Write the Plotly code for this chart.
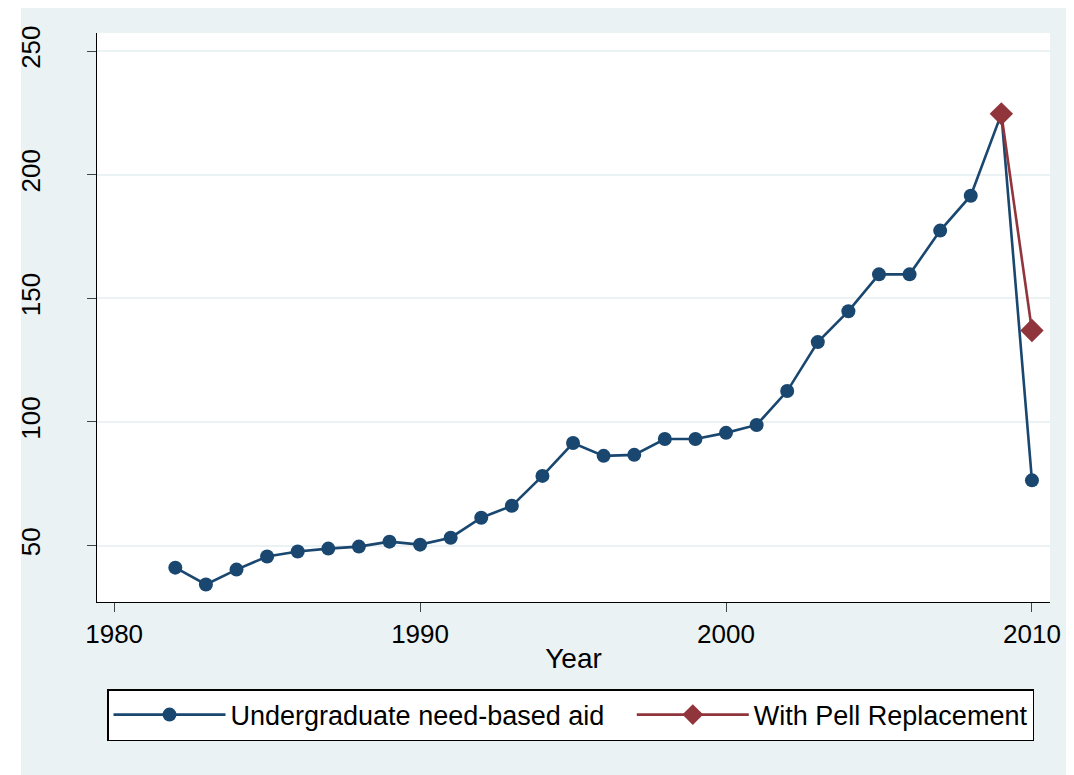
import plotly.graph_objects as go

years = list(range(1982, 2011))
need_based_aid = [41.1, 34.3, 40.3, 45.6, 47.6, 48.8, 49.6, 51.6, 50.4, 53.2,
                  61.3, 66.1, 78.2, 91.5, 86.3, 86.7, 93.1, 93.1, 95.6, 98.8,
                  112.5, 132.3, 144.8, 159.7, 159.7, 177.4, 191.5, 224.6, 76.4]
pell_years = [2009, 2010]
pell_replacement = [224.6, 137.0]

x_ticks = [1980, 1990, 2000, 2010]
y_ticks = [50, 100, 150, 200, 250]

navy = "#1a476f"
maroon = "#90353b"
panel = "#eaf2f3"

fig = go.Figure()

fig.add_trace(go.Scatter(
    x=years, y=need_based_aid,
    mode="lines+markers",
    # trailing no-break spaces widen the gap to the second legend entry
    name="Undergraduate need-based aid\u00a0\u00a0\u00a0",
    line=dict(color=navy, width=2.6),
    marker=dict(color=navy, size=14, symbol="circle")
))

fig.add_trace(go.Scatter(
    x=pell_years, y=pell_replacement,
    mode="lines+markers",
    name="With Pell Replacement",
    line=dict(color=maroon, width=2.6),
    marker=dict(color=maroon, size=18, symbol="diamond")
))

# outer light panel, then the white plot region on top of it
fig.add_shape(type="rect", xref="paper", yref="paper",
              x0=-0.0797, x1=1.05, y0=-0.35, y1=1.0457,
              fillcolor=panel, line=dict(width=0), layer="below")
fig.add_shape(type="rect", xref="paper", yref="paper",
              x0=0, x1=1, y0=0, y1=1,
              fillcolor="white", line=dict(width=0), layer="below")

fig.update_layout(
    width=1074, height=775,
    paper_bgcolor="white",
    plot_bgcolor="white",
    margin=dict(l=89, r=32, t=25, b=181),
    font=dict(family="Arial, Liberation Sans, sans-serif", size=26, color="black"),
    showlegend=True,
    xaxis=dict(
        range=[1979.44, 2010.59],
        tickvals=x_ticks,
        ticks="outside", ticklen=9, tickwidth=1.3, tickcolor="#444",
        showgrid=False, zeroline=False, automargin=False,
        showline=True, linecolor="black", linewidth=1.3,
        title=dict(text="Year", standoff=0, font=dict(size=28)),
        tickfont=dict(size=26)
    ),
    yaxis=dict(
        range=[27.2, 257.3],
        tickvals=y_ticks,
        tickangle=-90,
        ticks="outside", ticklen=9, tickwidth=1.3, tickcolor="#444",
        showgrid=True, gridcolor=panel, gridwidth=2,
        zeroline=False, automargin=False,
        showline=True, linecolor="black", linewidth=1.3,
        tickfont=dict(size=26),
        ticklabelstandoff=36
    ),
    legend=dict(
        orientation="h",
        x=0.0105, y=-0.153,
        xanchor="left", yanchor="top",
        bgcolor="white",
        bordercolor="black",
        borderwidth=1.5,
        itemwidth=112,
        font=dict(size=27)
    )
)

fig.write_html("out.html")
